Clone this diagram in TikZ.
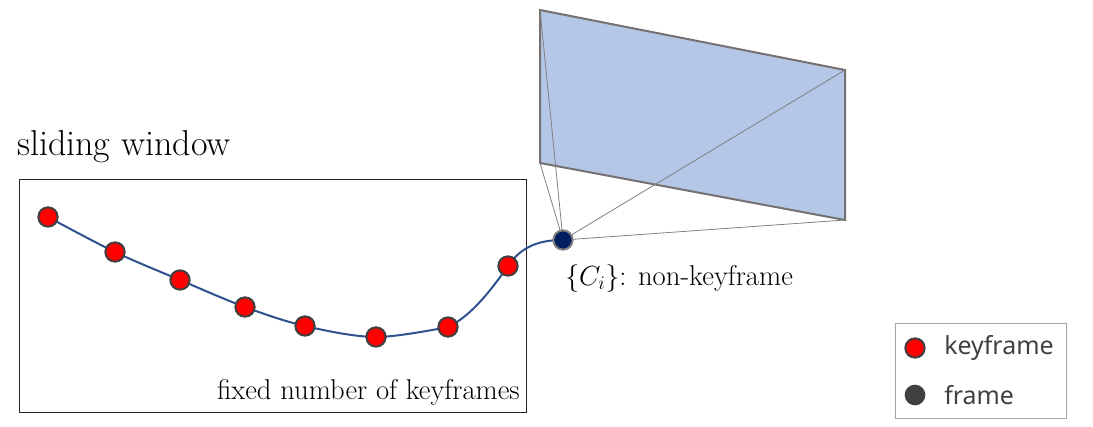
\documentclass[tikz,border=0pt]{standalone}
\usepackage{fontspec}
\newfontfamily\legendfont{Noto Sans}
\definecolor{kfred}{RGB}{255,0,0}
\definecolor{kfborder}{RGB}{64,64,64}
\definecolor{navy}{RGB}{0,32,96}
\definecolor{planefill}{RGB}{180,199,231}
\definecolor{planeborder}{RGB}{118,113,113}
\definecolor{curveblue}{RGB}{47,82,143}
\definecolor{legendgray}{RGB}{64,64,64}
\tikzset{
  kf/.style={circle, fill=kfred, draw=kfborder, line width=1.5pt, minimum size=14.5pt, inner sep=0pt},
  fr/.style={circle, fill=navy, draw=gray, line width=1.5pt, minimum size=14.5pt, inner sep=0pt},
  lgframe/.style={circle, fill=legendgray, draw=legendgray, line width=1pt, minimum size=14.5pt, inner sep=0pt},
  ray/.style={draw=gray, line width=0.6pt},
  traj/.style={draw=curveblue, line width=1.5pt},
  legtext/.style={text=legendgray, font=\legendfont\fontsize{18.7}{21}\selectfont, anchor=west, inner sep=0pt},
}
\begin{document}
\begin{tikzpicture}[x=0.75pt, y=-0.75pt]
\useasboundingbox (0,0) rectangle (1093,426);
% image plane
\coordinate (p1) at (540,10);
\coordinate (p2) at (845,70);
\coordinate (p3) at (845,220);
\coordinate (p4) at (540,163);
\draw[fill=planefill, draw=planeborder, line width=1.5pt] (p1) -- (p2) -- (p3) -- (p4) -- cycle;
% window box
\node[draw=black!85, line width=0.6pt, minimum width=380.25pt, minimum height=174.75pt, inner sep=0pt, anchor=north west] (win) at (19,179) {};
\node[anchor=south west, inner sep=0pt, font=\fontsize{27}{30}\selectfont] (title) at (17,163) {sliding window};
\node[anchor=base east, inner sep=0pt, font=\fontsize{21.5}{24}\selectfont] (fixed) at (520,399) {fixed number of keyframes};
% positions
\coordinate (c1) at (48,217);
\coordinate (c2) at (115,252);
\coordinate (c3) at (180,280);
\coordinate (c4) at (245,307);
\coordinate (c5) at (305,326);
\coordinate (c6) at (376,337);
\coordinate (c7) at (448,327);
\coordinate (c8) at (508,266);
\coordinate (cf) at (563,240);
% rays
\draw[ray] (cf) -- (p1);
\draw[ray] (cf) -- (p2);
\draw[ray] (cf) -- (p3);
\draw[ray] (cf) -- (p4);
% trajectory
\draw[traj] plot[smooth, tension=0.55] coordinates {(c1) (c2) (c3) (c4) (c5) (c6) (c7)};
\draw[traj] (c7) .. controls (472,316) and (494,286) .. (c8) .. controls (521,247) and (538,240) .. (cf);
% nodes
\foreach \i in {1,...,8} { \node[kf] (k\i) at (c\i) {}; }
\node[fr] (f) at (cf) {};
\node[anchor=base west, inner sep=0pt, font=\fontsize{21.5}{24}\selectfont] (flabel) at (565,285) {$\{C_i\}$: non-keyframe};
% legend
\node[draw=gray!70, line width=0.8pt, minimum width=128.25pt, minimum height=71.25pt, inner sep=0pt, anchor=north west] (legend) at (895,323) {};
\node[kf] (lk) at (915,348) {};
\node[lgframe] (lf) at (915,395) {};
\node[legtext] (lkt) at (944,348) {keyframe};
\node[legtext] (lft) at (944,395) {frame};
\end{tikzpicture}
\end{document}
